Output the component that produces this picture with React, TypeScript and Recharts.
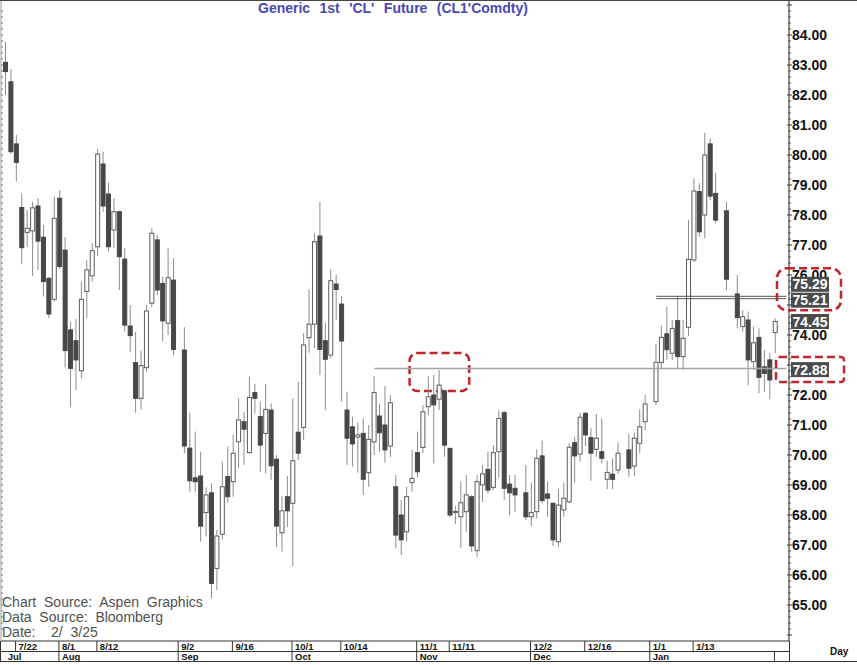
import React from "react";
import { Bar, ComposedChart, ReferenceArea, ReferenceLine, XAxis, YAxis } from "recharts";

// weekday slots, holidays left empty
const DATES = [
  "7/18", "7/19",
  "7/22", "7/23", "7/24", "7/25", "7/26",
  "7/29", "7/30", "7/31", "8/1", "8/2",
  "8/5", "8/6", "8/7", "8/8", "8/9",
  "8/12", "8/13", "8/14", "8/15", "8/16",
  "8/19", "8/20", "8/21", "8/22", "8/23",
  "8/26", "8/27", "8/28", "8/29", "8/30",
  "9/2", "9/3", "9/4", "9/5", "9/6",
  "9/9", "9/10", "9/11", "9/12", "9/13",
  "9/16", "9/17", "9/18", "9/19", "9/20",
  "9/23", "9/24", "9/25", "9/26", "9/27",
  "9/30", "10/1", "10/2", "10/3", "10/4",
  "10/7", "10/8", "10/9", "10/10", "10/11",
  "10/14", "10/15", "10/16", "10/17", "10/18",
  "10/21", "10/22", "10/23", "10/24", "10/25",
  "10/28", "10/29", "10/30", "10/31", "11/1",
  "11/4", "11/5", "11/6", "11/7", "11/8",
  "11/11", "11/12", "11/13", "11/14", "11/15",
  "11/18", "11/19", "11/20", "11/21", "11/22",
  "11/25", "11/26", "11/27", "11/28", "11/29",
  "12/2", "12/3", "12/4", "12/5", "12/6",
  "12/9", "12/10", "12/11", "12/12", "12/13",
  "12/16", "12/17", "12/18", "12/19", "12/20",
  "12/23", "12/24", "12/25", "12/26", "12/27",
  "12/30", "12/31", "1/1", "1/2", "1/3",
  "1/6", "1/7", "1/8", "1/9", "1/10",
  "1/13", "1/14", "1/15", "1/16", "1/17",
  "1/20", "1/21", "1/22", "1/23", "1/24",
  "1/27", "1/28", "1/29", "1/30", "1/31",
  "2/3", "2/4", "2/5",
];

const OPEN = [
  83.09, 82.44,
  80.37, 78.25, 77.42, 77.47, 78.3,
  77.26, 75.89, 75.19, 78.56, 76.83,
  74.17, 73.81, 72.81, 75.45, 75.97,
  76.94, 79.7, 78.7, 77.5, 78.11,
  76.53, 74.3, 73.08, 71.89, 72.91,
  75.06, 77.17, 75.72, 74.39, 75.83,
  null, 73.5, 70.23, 69.24, 69.3,
  68.08, 68.74, 66.22, 67.36, 69.28,
  69.11, 70.44, 71.11, 70.08, 72.08,
  71.28, 70.72, 71.5, 69.86, 67.41,
  68.61, 68.39, 70.76, 70.92, 73.91,
  74.36, 77.3, 73.81, 73.33, 75.7,
  75.03, 71.5, 70.94, 70.6, 70.72,
  69.41, 70.44, 71.3, 71.0, 70.3,
  68.94, 68.0, 67.44, 69.08, 70.08,
  70.25, 71.61, 72.0, 71.86, 72.14,
  70.22, 68.08, 67.94, 68.11, 68.61,
  66.81, 69.0, 69.52, 68.92, 70.11,
  71.41, 69.03, 68.89, null, 68.74,
  67.94, 68.11, 69.97, 68.7, 68.39,
  67.11, 68.17, 68.44, 70.41, 70.03,
  71.39, 70.58, 70.19, 70.11, 69.19,
  69.36, 69.5, null, 70.17, 69.63,
  70.39, 71.11, null, 71.78, 73.08,
  74.04, 73.39, 74.48, 73.28, 74.26,
  76.5, 78.78, 78.0, 80.37, 78.72,
  null, 78.14, null, 75.37, 74.28,
  74.5, 73.11, 73.92, 72.94, 73.17,
  74.08, null, null,
];

const HIGH = [
  83.78, 82.86,
  80.67, 78.72, 78.17, 78.44, 78.56,
  77.67, 75.94, 78.61, 78.83, 77.26,
  74.45, 74.53, 75.78, 76.5, 77.06,
  80.2, 80.11, 79.08, 78.56, 78.15,
  76.89, 75.0, 74.11, 73.48, 75.0,
  77.56, 77.33, 75.94, 76.89, 76.56,
  null, 74.26, 71.41, 70.78, 70.11,
  68.92, 69.06, 67.5, 69.78, 70.28,
  70.67, 71.89, 71.44, 72.61, 72.37,
  71.78, 72.37, 71.72, 70.0, 68.63,
  69.3, 71.89, 72.44, 74.06, 75.52,
  77.39, 78.44, 74.41, 76.19, 76.0,
  75.3, 72.11, 71.28, 71.08, 71.22,
  71.0, 72.63, 71.7, 72.3, 72.0,
  69.33, 68.5, 68.94, 70.17, 70.78,
  71.67, 72.63, 72.67, 72.83, 72.16,
  70.25, 68.3, 69.11, 69.33, 68.67,
  69.33, 69.67, 70.11, 70.33, 71.48,
  71.48, 69.33, 69.33, null, 69.67,
  69.08, 70.19, 70.48, 69.11, 68.41,
  68.86, 69.08, 70.39, 70.61, 71.41,
  71.44, 70.89, 71.37, 71.22, 69.81,
  69.89, 70.41, null, 70.72, 70.74,
  71.52, 72.0, null, 73.7, 74.3,
  74.94, 74.5, 75.28, 74.5, 77.83,
  79.22, 79.06, 80.74, 80.56, 79.41,
  null, 78.44, null, 76.0, 74.83,
  74.78, 74.28, 74.22, 73.5, 73.39,
  74.55, null, null,
];

const LOW = [
  82.0, 80.03,
  79.11, 76.36, 76.94, 75.97, 76.17,
  75.28, 74.56, 75.11, 76.19, 72.92,
  71.61, 72.17, 72.56, 74.56, 75.78,
  76.64, 78.11, 76.78, 76.89, 75.5,
  74.11, 73.44, 71.41, 71.52, 72.78,
  74.94, 75.33, 73.78, 74.0, 73.33,
  null, 70.06, 68.78, 68.78, 67.11,
  67.28, 65.22, 65.5, 67.19, 68.41,
  68.61, 69.56, 69.67, 70.06, 71.39,
  69.44, 69.39, 69.17, 66.94, 66.78,
  67.6, 66.3, 69.83, 70.5, 73.41,
  73.56, 72.67, 71.5, 73.22, 74.5,
  71.78, 69.67, 69.61, 69.41, 68.67,
  68.94, 70.0, 70.11, 69.75, 69.94,
  66.89, 66.67, 67.11, 68.78, 69.25,
  70.06, 71.33, 69.72, 71.5, 69.94,
  67.94, 67.7, 66.89, 67.44, 66.78,
  66.61, 68.44, 68.72, 68.83, 69.26,
  68.5, 68.0, 68.11, null, 67.83,
  67.63, 67.89, 68.39, 67.94, 66.97,
  66.94, 67.94, 68.39, 69.08, 69.78,
  70.3, 69.14, 69.94, 69.72, 68.86,
  68.86, 69.37, null, 69.28, 69.3,
  70.06, 70.83, null, 71.67, 72.86,
  73.17, 73.17, 72.89, 72.83, 73.97,
  76.44, 77.28, 77.22, 78.5, 77.72,
  null, 75.5, null, 74.22, 74.11,
  72.33, 72.83, 72.06, 72.11, 71.86,
  73.39, null, null,
];

const CLOSE = [
  82.78, 80.11,
  79.75, 76.91, 77.56, 78.24, 77.13,
  75.78, 74.7, 77.89, 76.28, 73.48,
  72.89, 73.17, 75.19, 76.17, 76.81,
  80.03, 78.3, 76.94, 78.11, 76.61,
  74.33, 73.98, 71.89, 72.98, 74.8,
  77.39, 75.5, 74.47, 75.91, 73.52,
  null, 70.3, 69.14, 69.11, 67.63,
  68.67, 65.72, 67.3, 68.94, 68.61,
  70.06, 71.17, 70.86, 71.92, 71.89,
  70.33, 71.52, 69.64, 67.63, 68.14,
  68.14, 69.81, 70.06, 73.67, 74.36,
  77.11, 73.52, 73.19, 75.81, 75.52,
  73.8, 70.56, 70.37, 70.67, 69.19,
  70.52, 72.08, 70.74, 70.17, 71.74,
  67.33, 67.17, 68.61, 69.22, 69.44,
  71.44, 71.94, 71.67, 72.33, 70.33,
  68.0, 68.12, 68.41, 68.67, 66.97,
  69.11, 69.37, 68.83, 70.08, 71.22,
  68.89, 68.74, 68.67, null, 67.94,
  68.08, 69.89, 68.48, 68.56, 67.17,
  68.33, 68.56, 70.26, 69.97, 71.26,
  70.67, 70.06, 70.56, 69.89, 69.42,
  69.19, 70.06, null, 69.56, 70.56,
  70.94, 71.7, null, 73.09, 73.92,
  73.51, 74.22, 73.28, 73.89, 76.52,
  78.8, 77.44, 80.0, 78.63, 77.83,
  null, 75.86, null, 74.58, 74.61,
  73.17, 73.74, 72.59, 72.72, 72.5,
  74.45, null, null,
];

const PRICE_TICKS = [65, 66, 67, 68, 69, 70, 71, 72, 73, 74, 75, 76, 77, 78, 79, 80, 81, 82, 83, 84];
// labels that sit under the price tags in the original are not printed
const HIDDEN_LABELS = [73, 75];
const DATE_LABELS = ["7/22", "8/1", "8/12", "9/2", "9/16", "10/1", "10/14", "11/1", "11/11", "12/2", "12/16", "1/1", "1/13"];
const MONTHS: Record<string, string> = { "7/18": "Jul", "8/1": "Aug", "9/2": "Sep", "10/1": "Oct", "11/1": "Nov", "12/2": "Dec", "1/1": "Jan", "2/3": "" };

// price tags on the right axis: value -> vertical nudge
const TAGS: Record<string, number> = { "75.29": -12, "75.21": 1.5, "74.45": 0, "72.88": 1 };
const TAG_VALUES = [75.29, 75.21, 74.45, 72.88];
const SUPPORT = 72.88;
const RESIST = [75.29, 75.21];

const RED = "#c0272d";
const FONT = "Arial, 'Liberation Sans', sans-serif";

const data = DATES.map((date, i) => ({
  date,
  open: OPEN[i],
  high: HIGH[i],
  low: LOW[i],
  close: CLOSE[i],
  range: OPEN[i] == null ? null : [LOW[i], HIGH[i]],
}));

const minorTicks: number[] = [];
for (let m = 64; m < 85; m++) {
  for (let k = 1; k < 5; k++) minorTicks.push((m * 5 + k) / 5);
}
const axisTicks = [...PRICE_TICKS, ...minorTicks, 64, 85, ...TAG_VALUES];
const xTicks = DATES.filter((d) => DATE_LABELS.includes(d) || MONTHS[d] !== undefined);

function Candle(props: any) {
  const { x, y, width, height, payload } = props;
  if (payload == null || payload.open == null) return null;
  const { open, close, high, low } = payload;
  const top = Math.min(y, y + height);
  const h = Math.abs(height);
  const ppu = h / (high - low || 1);
  const cx = x + width / 2;
  const yo = top + (high - open) * ppu;
  const yc = top + (high - close) * ppu;
  const up = close >= open;
  const bTop = Math.min(yo, yc);
  const bH = Math.max(1, Math.abs(yo - yc));
  return (
    <g>
      <line x1={cx} x2={cx} y1={top} y2={top + h} stroke="#8c8c8c" strokeWidth={1} />
      <rect
        x={cx - 2}
        y={bTop}
        width={4}
        height={bH}
        fill={up ? "#ffffff" : "#474747"}
        stroke={up ? "#5c5c5c" : "#474747"}
        strokeWidth={1}
      />
    </g>
  );
}

function DateTick(props: any) {
  const { x, y, payload } = props;
  const v = payload.value as string;
  const lx = x - 1;
  const month = MONTHS[v];
  return (
    <g>
      {DATE_LABELS.includes(v) && (
        <g>
          <line x1={lx} x2={lx} y1={y} y2={y + 10} stroke="#333" />
          <text x={lx + 3} y={y + 8.5} fontSize={9.5} fontWeight="bold" fontFamily={FONT} fill="#111">
            {v}
          </text>
        </g>
      )}
      {month !== undefined && (
        <g>
          {v !== "7/18" && <line x1={lx} x2={lx} y1={y + 10} y2={y + 20} stroke="#333" />}
          <text x={lx + 3} y={y + 18.5} fontSize={9.5} fontWeight="bold" fontFamily={FONT} fill="#111">
            {month}
          </text>
        </g>
      )}
    </g>
  );
}

function PriceTick(props: any) {
  const { x, y, payload } = props;
  const v = payload.value as number;
  const key = v.toFixed(2);
  if (TAGS[key] !== undefined && TAG_VALUES.includes(v)) {
    const cy = y + TAGS[key];
    return (
      <g>
        <rect x={x + 2} y={cy - 7.5} width={38} height={15} fill="#4b4b4b" />
        <text x={x + 21} y={cy + 5} textAnchor="middle" fontSize={14} fontWeight="bold" fontFamily={FONT} fill="#fff">
          {key}
        </text>
        {key === "75.29" && (
          <rect x={x - 12} y={y - 28} width={64} height={42} rx={10} fill="none" stroke={RED} strokeWidth={2.5} strokeDasharray="8 4" />
        )}
        {key === "72.88" && (
          <rect x={x - 13} y={y - 11.5} width={68} height={25} rx={3} fill="none" stroke={RED} strokeWidth={2.5} strokeDasharray="8 4" />
        )}
      </g>
    );
  }
  if (Number.isInteger(v)) {
    return (
      <g>
        <line x1={x - 2} x2={x + 3} y1={y} y2={y} stroke="#333" />
        {PRICE_TICKS.includes(v) && !HIDDEN_LABELS.includes(v) && (
          <text x={x + 3} y={y + 5} fontSize={14} fontWeight="bold" fontFamily={FONT} fill="#111">
            {v.toFixed(2)}
          </text>
        )}
      </g>
    );
  }
  return <line x1={x - 1} x2={x + 2} y1={y} y2={y} stroke="#555" />;
}

function LeftTick(props: any) {
  const { x, y } = props;
  return <line x1={x} x2={x + 2} y1={y} y2={y} stroke="#777" />;
}

const NovBox = (p: any) => (
  <rect x={p.x} y={p.y} width={p.width} height={p.height} rx={8} fill="none" stroke={RED} strokeWidth={2.5} strokeDasharray="8 4" />
);

export default function App() {
  return (
    <div style={{ position: "absolute", left: 0, top: 0, width: 857, height: 665, background: "#fff", fontFamily: FONT }}>
      <ComposedChart width={857} height={665} data={data} margin={{ top: 0, right: 0, bottom: 3, left: 0 }}>
        <XAxis
          dataKey="date"
          interval={0}
          ticks={xTicks}
          tick={<DateTick />}
          tickLine={false}
          tickSize={0}
          tickMargin={0}
          height={21}
          padding={{ left: 2, right: 0 }}
          axisLine={{ stroke: "#333" }}
        />
        <YAxis
          yAxisId="l"
          orientation="left"
          width={1}
          type="number"
          domain={[63.8, 85.1667]}
          allowDataOverflow
          ticks={[...PRICE_TICKS, ...minorTicks]}
          interval={0}
          tick={<LeftTick />}
          tickLine={false}
          tickSize={0}
          tickMargin={0}
          axisLine={{ stroke: "#999" }}
        />
        <YAxis
          yAxisId="p"
          orientation="right"
          width={68}
          type="number"
          domain={[63.8, 85.1667]}
          allowDataOverflow
          ticks={axisTicks}
          interval={0}
          tick={<PriceTick />}
          tickLine={false}
          tickSize={0}
          tickMargin={0}
          axisLine={{ stroke: "#222" }}
        />
        <ReferenceLine
          yAxisId="p"
          segment={[{ x: "10/22", y: SUPPORT }, { x: "2/5", y: SUPPORT }]}
          stroke="#a6a6a6"
          strokeWidth={1.5}
          ifOverflow="visible"
        />
        {RESIST.map((v) => (
          <ReferenceLine
            key={v}
            yAxisId="p"
            segment={[{ x: "1/2", y: v }, { x: "2/5", y: v }]}
            stroke="#555"
            strokeWidth={1}
            ifOverflow="visible"
          />
        ))}
        <Bar yAxisId="p" dataKey="range" barSize={5} shape={<Candle />} isAnimationActive={false} />
        <ReferenceArea yAxisId="p" x1="10/31" x2="11/14" y1={72.13} y2={73.4} ifOverflow="visible" shape={NovBox} />
      </ComposedChart>

      <div style={{ position: "absolute", left: 0, top: 0, width: 857, height: 1, background: "#444" }} />
      <div
        style={{
          position: "absolute",
          left: 258,
          top: 0,
          fontSize: 14,
          fontWeight: "bold",
          color: "#4848b8",
          whiteSpace: "pre",
          wordSpacing: 0.8,
          lineHeight: "17px",
        }}
      >
        {"Generic  1st  'CL'  Future  (CL1'Comdty)"}
      </div>
      <div
        style={{
          position: "absolute",
          left: 2,
          top: 595,
          fontSize: 14,
          color: "#505050",
          whiteSpace: "pre",
          lineHeight: "15px",
        }}
      >
        {"Chart  Source:  Aspen  Graphics\nData  Source:  Bloomberg\nDate:    2/  3/25"}
      </div>
      <div style={{ position: "absolute", left: 0, top: 651, width: 789, height: 1, background: "#333" }} />
      <div style={{ position: "absolute", left: 0, top: 661, width: 857, height: 1, background: "#333" }} />
      <div style={{ position: "absolute", left: 0, top: 641, width: 1, height: 21, background: "#333" }} />
      <div style={{ position: "absolute", left: 789, top: 641, width: 1, height: 21, background: "#333" }} />
      <div style={{ position: "absolute", left: 830, top: 646, fontSize: 10, fontWeight: "bold", color: "#111" }}>Day</div>
    </div>
  );
}
